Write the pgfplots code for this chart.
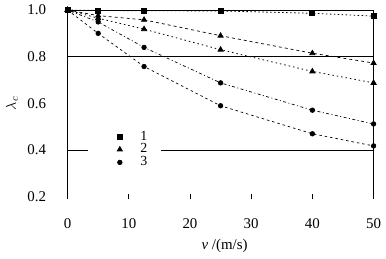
\documentclass[border=0pt]{standalone}
\usepackage{pgfplots}
\pgfplotsset{compat=1.18}
\usepackage{fontspec}
\setmainfont{Liberation Serif}
\begin{document}
\fontsize{15bp}{18bp}\selectfont
\begin{tikzpicture}
\begin{axis}[
  width=308bp, height=188bp, scale only axis,
  xmin=0, xmax=50, ymin=0.2, ymax=1.0,
  clip=false,
  axis line style={draw=none},
  xtick={0,10,20,30,40,50},
  ytick={0.2,0.4,0.6,0.8,1.0},
  yticklabels={0.2,0.4,0.6,0.8,1.0},
  xtick pos=bottom, ytick pos=left,
  tick align=center,
  major tick length=5bp,
  ytick style={draw=none},
  xtick style={black, line width=0.6bp},
  xticklabel style={yshift=-14bp},
  yticklabel style={xshift=-14bp},
  /pgf/number format/assume math mode=true,
  xlabel={\textit{v} /(m/s)},
  xlabel style={at={(axis description cs:0.5,0)}, anchor=north, yshift=-37bp, xshift=4bp},
  legend style={at={(0.065,0.37)}, anchor=north west, draw=none, fill=white,
    font=\fontsize{14bp}{14bp}\selectfont, row sep=-2.5bp, inner xsep=12bp, inner ysep=1bp},
  legend cell align=left,
  legend image code/.code={\path (0bp,0bp) (22bp,0bp); \draw[#1] plot coordinates {(20bp,0bp)};},
]
\draw[black, line width=0.7bp] (axis cs:0,0.2) -- (axis cs:0,1.0);
\draw[black, line width=0.7bp] (axis cs:50,0.2) -- (axis cs:50,1.0);
\draw[black, line width=0.7bp] (axis cs:0,1.0) -- (axis cs:50,1.0);
\draw[black, line width=0.7bp] (axis cs:0,0.8) -- (axis cs:50,0.8);
\draw[black, line width=0.7bp] (axis cs:0,0.4) -- (axis cs:50,0.4);
\coordinate (O) at (rel axis cs:0,0);
\coordinate (T) at (rel axis cs:1,1);
\node[rotate=90] at ([xshift=-56bp]rel axis cs:0,0.5) {$\lambda_c$};

\addplot[black, line width=0.8bp, dash pattern=on 1.5bp off 2.5bp, mark=square*, mark size=2.5bp, mark options={solid}]
  coordinates {(0,1.0) (5,0.998) (12.5,0.997) (25,0.996) (40,0.986) (50,0.974)};
\addlegendentry{\hspace{16bp}1}
\addplot[black, line width=0.7bp, dash pattern=on 3bp off 3bp, mark=triangle*, mark size=3bp, mark options={solid}]
  coordinates {(0,1.0) (5,0.976) (12.5,0.958) (25,0.89) (40,0.815) (50,0.773)};
\addlegendentry{\hspace{16bp}2}
\addplot[black, line width=0.7bp, dash pattern=on 1pt off 2.5pt on 3pt off 2.5pt, mark=*, mark size=2.3bp, mark options={solid}]
  coordinates {(0,1.0) (5,0.949) (12.5,0.84) (25,0.688) (40,0.571) (50,0.512)};
\addlegendentry{\hspace{16bp}3}
\addplot[black, line width=0.8bp, dash pattern=on 1.5bp off 3bp, mark=triangle*, mark size=3bp, mark options={solid}, forget plot]
  coordinates {(0,1.0) (5,0.965) (12.5,0.918) (25,0.83) (40,0.737) (50,0.688)};
\addplot[black, line width=0.7bp, dash pattern=on 2.5bp off 3bp, mark=*, mark size=2.3bp, mark options={solid}, forget plot]
  coordinates {(0,1.0) (5,0.90) (12.5,0.758) (25,0.59) (40,0.47) (50,0.418)};
\end{axis}
\path ([shift={(-68bp,-62bp)}]O) rectangle ([shift={(10bp,7bp)}]T);
\end{tikzpicture}
\end{document}
